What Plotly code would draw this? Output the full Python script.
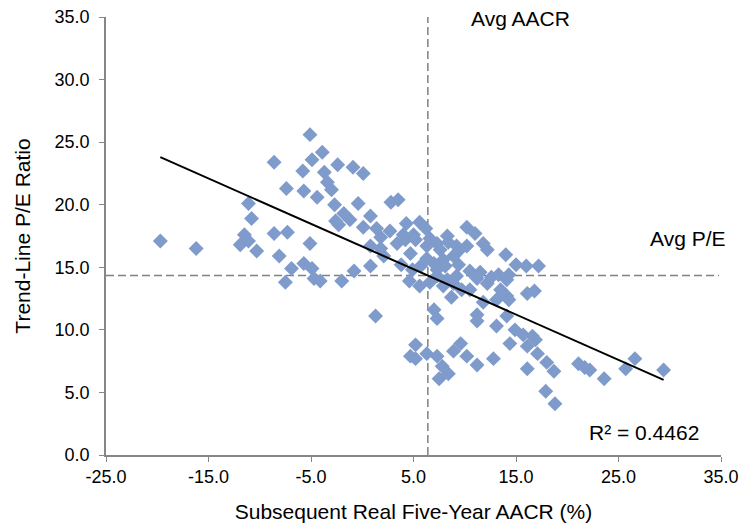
import plotly.graph_objects as go

# Subsequent real five-year AACR (%) and trend-line P/E ratio
aacr = [-19.7, -16.2, -5.1, -3.9, -4.9, -8.6, -5.8, -3.7, -2.4, -0.9, 0.1, -3.4, -7.4, -5.7,
        -4.4, -3.0, -2.7, -0.4, 2.8, 3.5, -11.1, -10.8, -1.8, -2.6, -1.2, 0.8, 0.1, 1.4,
        -2.3, 1.8, 2.7, 4.0, -11.5, -8.6, -7.3, -11.9, -11.1, -10.3, -8.1, -5.1, -6.9, -5.7,
        -4.9, -4.7, -4.1, -7.5, -2.0, -0.8, 0.8, 1.8, 2.1, 0.8, 1.3, 3.4, 4.2, 5.2,
        4.3, 5.6, 6.2, 5.0, 6.6, 8.3, 10.2, 11.0, 11.8, 12.2, 14.0, 15.0, 16.0, 17.2,
        9.2, 10.2, 7.6, 6.3, 7.3, 8.4, 9.4, 4.7, 3.8, 4.9, 5.7, 6.3, 7.0, 7.9,
        8.9, 9.4, 8.1, 7.3, 10.5, 11.5, 11.2, 12.2, 12.6, 13.3, 14.3, 4.6, 5.6, 7.3,
        8.3, 9.2, 7.9, 8.9, 8.7, 9.7, 10.5, 11.8, 13.1, 13.5, 14.3, 16.1, 16.8, 14.1,
        14.1, 7.0, 7.3, 11.2, 14.1, 11.2, 13.1, 14.9, 16.6, 5.2, 5.2, 4.7, 6.3, 7.3,
        7.8, 7.5, 8.4, 9.6, 8.9, 10.2, 11.2, 12.8, 14.4, 15.7, 16.9, 16.1, 17.1, 18.0,
        18.7, 16.1, 17.9, 18.8, 21.1, 21.7, 22.2, 23.6, 25.7, 26.6, 29.4, 6.6]
pe = [17.1, 16.5, 25.6, 24.2, 23.6, 23.4, 22.7, 22.6, 23.2, 23.0, 22.5, 21.8, 21.3, 21.1,
      20.6, 21.2, 20.0, 20.1, 20.2, 20.4, 20.1, 18.9, 19.3, 18.7, 18.8, 19.1, 18.2, 18.1,
      18.4, 17.4, 17.9, 17.6, 17.6, 17.7, 17.8, 16.8, 17.1, 16.3, 15.9, 16.9, 14.9, 15.3,
      14.9, 14.1, 13.9, 13.8, 13.9, 14.7, 16.7, 16.5, 15.9, 15.1, 11.1, 16.9, 17.2, 17.2,
      18.5, 18.6, 18.1, 17.6, 17.3, 17.5, 18.2, 17.7, 16.9, 16.4, 16.0, 15.2, 15.1, 15.1,
      16.7, 16.7, 16.4, 16.7, 16.9, 17.0, 16.3, 16.1, 15.2, 14.8, 15.1, 15.7, 15.3, 15.6,
      15.9, 15.2, 15.1, 14.8, 14.7, 14.6, 14.1, 13.7, 14.2, 14.4, 14.4, 13.9, 13.5, 14.3,
      14.0, 14.3, 13.5, 13.7, 12.6, 13.2, 13.2, 12.2, 12.4, 13.2, 12.4, 12.9, 13.1, 14.0,
      12.7, 11.6, 10.9, 11.2, 11.1, 10.7, 10.3, 10.0, 9.5, 8.8, 7.7, 7.9, 8.1, 7.9,
      7.1, 6.1, 6.5, 8.9, 8.3, 7.9, 7.2, 7.7, 8.9, 9.6, 9.2, 8.7, 8.1, 7.4,
      6.7, 6.9, 5.1, 4.1, 7.3, 7.0, 6.8, 6.1, 6.9, 7.7, 6.8, 13.8]

AVG_AACR = 6.4
AVG_PE = 14.35
TREND_SLOPE = -0.3625
TREND_INTERCEPT = 16.66
R2_TEXT = "R² = 0.4462"
X_TICKS = [-25, -15, -5, 5, 15, 25, 35]
X_TICK_LABELS = ["-25.0", "-15.0", "-5.0", "5.0", "15.0", "25.0", "35.0"]
Y_TICKS = [0, 5, 10, 15, 20, 25, 30, 35]
Y_TICK_LABELS = ["0.0", "5.0", "10.0", "15.0", "20.0", "25.0", "30.0", "35.0"]

xl = [min(aacr), max(aacr)]
yl = [TREND_SLOPE * v + TREND_INTERCEPT for v in xl]

DASH = dict(color="#808080", width=1.5, dash="8px,4px")
fig = go.Figure()
fig.add_trace(go.Scatter(x=[AVG_AACR, AVG_AACR], y=[0, 35], mode="lines",
                         line=DASH, hoverinfo="skip"))
fig.add_trace(go.Scatter(x=[-25, 34.8], y=[AVG_PE, AVG_PE], mode="lines",
                         line=DASH, hoverinfo="skip"))
fig.add_trace(go.Scatter(x=aacr, y=pe, mode="markers",
                         marker=dict(symbol="diamond", size=11.5, color="#7F9BCB",
                                     line=dict(width=0))))
fig.add_trace(go.Scatter(x=xl, y=yl, mode="lines", line=dict(color="black", width=2)))

font = "Liberation Sans, Arial, sans-serif"
TICK_SIZE = 18
TITLE_SIZE = 21
fig.update_layout(
    width=744, height=527, showlegend=False,
    paper_bgcolor="white", plot_bgcolor="white",
    margin=dict(l=106, r=23, t=17, b=72, autoexpand=False),
    font=dict(family=font, size=TICK_SIZE, color="#000000"),
    xaxis=dict(range=[-25, 35], tickvals=X_TICKS, ticktext=X_TICK_LABELS,
               showgrid=False, zeroline=False, showline=True, linecolor="#868686",
               linewidth=1.5, ticks="outside", ticklen=5, tickcolor="#868686",
               title=dict(text="Subsequent Real Five-Year AACR (%)", font=dict(size=TITLE_SIZE), standoff=18),
               tickfont=dict(size=TICK_SIZE)),
    yaxis=dict(range=[0, 35], tickvals=Y_TICKS, ticktext=Y_TICK_LABELS,
               showgrid=False, zeroline=False, showline=True, linecolor="#868686",
               linewidth=1.5, ticks="outside", ticklen=5, tickcolor="#868686",
               ticklabelstandoff=6,
               title=dict(text="Trend-Line P/E Ratio", font=dict(size=TITLE_SIZE), standoff=18),
               tickfont=dict(size=TICK_SIZE)),
    annotations=[
        dict(x=10.4, y=34.9, xref="x", yref="y", text="Avg AACR", showarrow=False,
             xanchor="left", yanchor="middle", font=dict(size=TITLE_SIZE)),
        dict(x=27.9, y=17.3, xref="x", yref="y", text="Avg P/E", showarrow=False,
             xanchor="left", yanchor="middle", font=dict(size=TITLE_SIZE)),
        dict(x=21.9, y=1.8, xref="x", yref="y", text=R2_TEXT, showarrow=False,
             xanchor="left", yanchor="middle", font=dict(size=TITLE_SIZE)),
    ],
)
fig.write_html("out.html", config={"displayModeBar": False},
               post_script="document.body.style.margin='0';")
